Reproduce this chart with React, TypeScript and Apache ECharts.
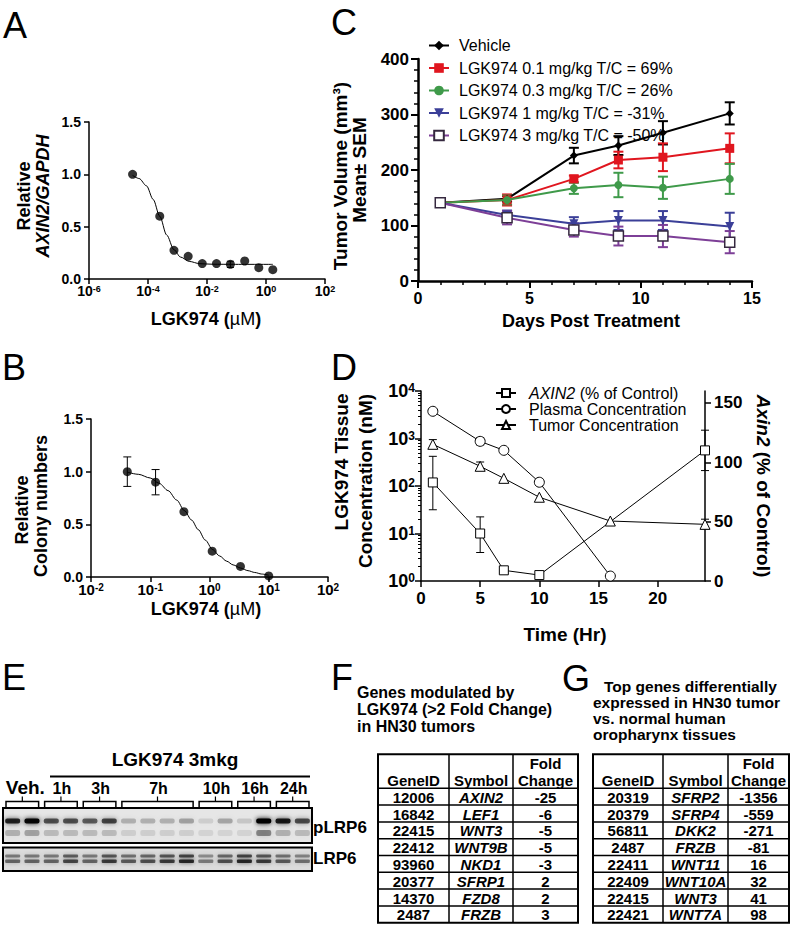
import React, { useEffect, useRef } from 'react';
import * as echarts from 'echarts';

const FONT = '"Liberation Sans", Arial, Helvetica, sans-serif';

// ---------- Panel A ----------
const A_DOSE = [3.0e-5, 2.5e-4, 7.6e-4, 2.3e-3, 6.9e-3, 2.1e-2, 6.2e-2, 0.19, 0.57, 1.7];
const A_AXIN2 = [1.0, 0.6, 0.274, 0.217, 0.147, 0.147, 0.14, 0.172, 0.108, 0.089];
const A_SEM = [0, 0, 0, 0, 0, 0, 0.03, 0, 0, 0];
// fitted curve
const A_FIT_DOSE = [3.0e-5, 5.0e-5, 8.9e-5, 1.5e-4, 2.5e-4, 4.3e-4, 7.6e-4, 1.26e-3, 2.5e-3, 5.75e-3, 1.58e-2, 7.8e-2, 1.7];
const A_FIT = [0.99, 0.96, 0.89, 0.76, 0.6, 0.42, 0.28, 0.21, 0.168, 0.146, 0.141, 0.14, 0.14];

// ---------- Panel B ----------
const B_DOSE = [0.041, 0.123, 0.37, 1.11, 3.33, 10];
const B_COLONY = [1.0, 0.9, 0.62, 0.245, 0.1, 0.01];
const B_SEM = [0.14, 0.12, 0, 0, 0, 0];
// fitted curve
const B_FIT_DOSE = [0.041, 0.063, 0.1, 0.141, 0.2, 0.28, 0.377, 0.5, 0.645, 0.85, 1.13, 1.48, 1.95, 2.5, 3.35, 4.47, 5.8, 7.6, 10];
const B_FIT = [0.995, 0.975, 0.94, 0.89, 0.82, 0.73, 0.63, 0.54, 0.45, 0.35, 0.26, 0.2, 0.15, 0.115, 0.085, 0.06, 0.043, 0.028, 0.017];

// ---------- Panel C ----------
const C_DAYS = [1, 4, 7, 9, 11, 14];
const C_NAMES = [
  'Vehicle',
  'LGK974 0.1 mg/kg T/C = 69%',
  'LGK974 0.3 mg/kg T/C = 26%',
  'LGK974 1 mg/kg T/C = -31%',
  'LGK974 3 mg/kg T/C = -50%',
];
const C_VEH = [141, 148, 226, 244, 267, 302];
const C_VEH_SEM = [0, 5, 14, 17, 21, 20];
const C_01 = [141, 146, 184, 218, 223, 239];
const C_01_SEM = [0, 10, 6, 15, 25, 27];
const C_03 = [141, 146, 167, 173, 168, 184];
const C_03_SEM = [0, 8, 10, 22, 20, 27];
const C_1 = [141, 119, 103, 109, 109, 98];
const C_1_SEM = [0, 8, 12, 17, 17, 25];
const C_3 = [141, 114, 92, 81, 81, 70];
const C_3_SEM = [0, 12, 12, 17, 20, 20];

// ---------- Panel D ----------
const D_NAMES = ['AXIN2 (% of Control)', 'Plasma Concentration', 'Tumor Concentration'];
const D_T_AXIN2 = [1, 5, 7, 10, 24];
const D_AXIN2 = [83, 40, 9, 5, 110];
const D_AXIN2_LO = [60, 24, 9, 5, 93];
const D_AXIN2_HI = [105, 54, 9, 5, 127];
const D_T_PLASMA = [1, 5, 7, 10, 16];
const D_PLASMA = [3740, 871, 564, 120, 1.27];
const D_PLASMA_LO = [3300, 730, 564, 103, 1.27];
const D_PLASMA_HI = [4300, 1050, 564, 138, 1.27];
const D_T_TUMOR = [1, 5, 7, 10, 16, 24];
const D_TUMOR = [755, 260, 145, 58, 18.3, 15.6];
const D_TUMOR_LO = [613, 214, 145, 58, 18.3, 12.5];
const D_TUMOR_HI = [948, 320, 145, 58, 18.3, 20];
const D_X_TICKS = [0, 5, 10, 15, 20];
const D_R_TICKS = [0, 50, 100, 150];

// ---------- Panel E (band darkness per lane, 0..1) ----------
const E_GROUP_LABELS = ['Veh.', '1h', '3h', '7h', '10h', '16h', '24h'];
const E_GROUP_SIZES = [2, 2, 2, 4, 2, 2, 2];
const E_PLRP6 = [0.8, 0.95, 0.6, 0.6, 0.55, 0.65, 0.22, 0.22, 0.22, 0.28, 0.1, 0.26, 0.13, 1.0, 0.85, 0.62];
const E_PLRP6_LOW = [0.22, 0.28, 0.18, 0.18, 0.18, 0.18, 0.1, 0.1, 0.1, 0.1, 0.08, 0.08, 0.08, 0.4, 0.22, 0.18];
const E_LRP6 = [0.55, 0.55, 0.55, 0.7, 0.55, 0.75, 0.6, 0.65, 0.75, 0.85, 0.45, 0.65, 0.85, 0.75, 0.6, 0.5];

// ---------- Tables ----------
const F_GENEID = ['12006', '16842', '22415', '22412', '93960', '20377', '14370', '2487'];
const F_SYMBOL = ['AXIN2', 'LEF1', 'WNT3', 'WNT9B', 'NKD1', 'SFRP1', 'FZD8', 'FRZB'];
const F_FOLD = ['-25', '-6', '-5', '-5', '-3', '2', '2', '3'];
const G_GENEID = ['20319', '20379', '56811', '2487', '22411', '22409', '22415', '22421'];
const G_SYMBOL = ['SFRP2', 'SFRP4', 'DKK2', 'FRZB', 'WNT11', 'WNT10A', 'WNT3', 'WNT7A'];
const G_FOLD = ['-1356', '-559', '-271', '-81', '16', '32', '41', '98'];

// ---------- styles ----------
const C_STYLE = [
  { line: '#000000', fill: '#000000', border: '#000000', symbol: 'diamond', size: 8, rotate: 0 },
  { line: '#e0161f', fill: '#e0161f', border: '#e0161f', symbol: 'rect', size: 9, rotate: 0 },
  { line: '#3f9a4a', fill: '#3f9a4a', border: '#3f9a4a', symbol: 'circle', size: 8, rotate: 0 },
  { line: '#3b3f98', fill: '#3b3f98', border: '#3b3f98', symbol: 'triangle', size: 9, rotate: 180 },
  { line: '#7d3f97', fill: '#ffffff', border: '#35283f', symbol: 'rect', size: 10, rotate: 0 },
];

const pow10 = (v: number) => `{b|10}{s|${Math.round(Math.log10(v))}}`;
const richPow = (fs: number, ss: number) => ({
  b: { fontSize: fs, fontWeight: 'bold', fontFamily: FONT, color: '#000', verticalAlign: 'bottom' },
  s: { fontSize: ss, fontWeight: 'bold', fontFamily: FONT, color: '#000', verticalAlign: 'top' },
});

const line = (lw: number) => ({ color: '#000', width: lw });

function errorBars(xIdx: number, yIdx: number, xs: number[], lo: number[], hi: number[], color: string, lw: number, cap: number, z: number) {
  const data = xs.map((x, i) => [x, lo[i], hi[i]]).filter((d) => d[1] !== d[2]);
  return {
    type: 'custom',
    xAxisIndex: xIdx,
    yAxisIndex: yIdx,
    z,
    silent: true,
    data,
    encode: { x: 0, y: [1, 2] },
    renderItem: (params: any, api: any) => {
      const x = api.value(0);
      const p1 = api.coord([x, api.value(1)]);
      const p2 = api.coord([x, api.value(2)]);
      const h = cap / 2;
      const st = { stroke: color, lineWidth: lw };
      return {
        type: 'group',
        children: [
          { type: 'line', shape: { x1: p1[0], y1: p1[1], x2: p2[0], y2: p2[1] }, style: st },
          { type: 'line', shape: { x1: p1[0] - h, y1: p1[1], x2: p1[0] + h, y2: p1[1] }, style: st },
          { type: 'line', shape: { x1: p2[0] - h, y1: p2[1], x2: p2[0] + h, y2: p2[1] }, style: st },
        ],
      };
    },
  };
}

function txt(text: string, x: number, y: number, o: any = {}) {
  return {
    type: 'text',
    x,
    y,
    rotation: o.rotation || 0,
    z: 10,
    silent: true,
    style: {
      text,
      fill: '#000',
      fontFamily: FONT,
      fontSize: o.size || 16,
      fontWeight: o.weight || 'bold',
      fontStyle: o.italic ? 'italic' : 'normal',
      align: o.align || 'center',
      verticalAlign: o.va || 'middle',
      rich: o.rich,
    },
  };
}

function hline(x1: number, x2: number, y: number, lw: number) {
  return { type: 'line', z: 10, silent: true, shape: { x1, y1: y, x2, y2: y }, style: { stroke: '#000', lineWidth: lw } };
}
function vline(x: number, y1: number, y2: number, lw: number) {
  return { type: 'line', z: 10, silent: true, shape: { x1: x, y1, x2: x, y2 }, style: { stroke: '#000', lineWidth: lw } };
}

function buildTable(cols: number[], yTop: number, yHead: number, rowH: number, ids: string[], syms: string[], folds: string[]) {
  const els: any[] = [];
  const n = ids.length;
  const yBot = yHead + rowH * n;
  els.push({ type: 'rect', z: 10, silent: true, shape: { x: cols[0], y: yTop, width: cols[3] - cols[0], height: yBot - yTop }, style: { fill: 'none', stroke: '#000', lineWidth: 2 } });
  els.push(vline(cols[1], yTop, yBot, 1.5));
  els.push(vline(cols[2], yTop, yBot, 1.5));
  for (let k = 0; k < n; k++) els.push(hline(cols[0], cols[3], yHead + k * rowH, 1.5));
  const c = [(cols[0] + cols[1]) / 2, (cols[1] + cols[2]) / 2, (cols[2] + cols[3]) / 2];
  els.push(txt('GeneID', c[0], yHead - 8, { size: 15 }));
  els.push(txt('Symbol', c[1], yHead - 8, { size: 15 }));
  els.push(txt('Fold', c[2], yHead - 25, { size: 15 }));
  els.push(txt('Change', c[2], yHead - 8, { size: 15 }));
  for (let i = 0; i < n; i++) {
    const y = yHead + rowH * (i + 0.5) + 0.5;
    els.push(txt(ids[i], c[0], y, { size: 15 }));
    els.push(txt(syms[i], c[1], y, { size: 15, italic: true }));
    els.push(txt(folds[i], c[2], y, { size: 15 }));
  }
  return els;
}

function buildBlot() {
  const els: any[] = [];
  const X0 = 3;
  const X1 = 312;
  const n = E_PLRP6.length;
  const lw = (X1 - X0) / n;
  els.push({ type: 'rect', z: 5, silent: true, shape: { x: X0, y: 808, width: X1 - X0, height: 35 }, style: { fill: '#e6e6e6' } });
  els.push({ type: 'rect', z: 5, silent: true, shape: { x: X0, y: 847.5, width: X1 - X0, height: 23.5 }, style: { fill: '#dcdcdc' } });
  for (let i = 0; i < n; i++) {
    const cx = X0 + lw * (i + 0.5);
    const a = E_PLRP6[i];
    els.push({ type: 'rect', z: 6, silent: true, shape: { x: cx - 7.5, y: 818.5, width: 15, height: 5, r: 2 }, style: { fill: `rgba(0,0,0,${a})`, shadowBlur: 5, shadowColor: `rgba(0,0,0,${a})` } });
    const b = E_PLRP6_LOW[i];
    els.push({ type: 'rect', z: 6, silent: true, shape: { x: cx - 7.5, y: 830, width: 15, height: 6, r: 2 }, style: { fill: `rgba(0,0,0,${b})`, shadowBlur: 6, shadowColor: `rgba(0,0,0,${b})` } });
    const c = E_LRP6[i];
    els.push({ type: 'rect', z: 6, silent: true, shape: { x: cx - 7.5, y: 854.5, width: 15, height: 3, r: 1 }, style: { fill: `rgba(0,0,0,${c * 0.75})`, shadowBlur: 4, shadowColor: `rgba(0,0,0,${c * 0.75})` } });
    els.push({ type: 'rect', z: 6, silent: true, shape: { x: cx - 7.5, y: 859.5, width: 15, height: 3.5, r: 1 }, style: { fill: `rgba(0,0,0,${c * 0.9})`, shadowBlur: 4, shadowColor: `rgba(0,0,0,${c * 0.9})` } });
  }
  els.push({ type: 'rect', z: 7, silent: true, shape: { x: X0, y: 808, width: X1 - X0, height: 35 }, style: { fill: 'none', stroke: '#000', lineWidth: 2 } });
  els.push({ type: 'rect', z: 7, silent: true, shape: { x: X0, y: 847.5, width: X1 - X0, height: 23.5 }, style: { fill: 'none', stroke: '#000', lineWidth: 2 } });
  let start = 0;
  E_GROUP_SIZES.forEach((sz, g) => {
    const xa = X0 + lw * start + 3;
    const xb = X0 + lw * (start + sz) - 3;
    const xm = (xa + xb) / 2;
    els.push({ type: 'polyline', z: 10, silent: true, shape: { points: [[xa, 807], [xa, 801.5], [xb, 801.5], [xb, 807]] }, style: { stroke: '#000', lineWidth: 1.5, fill: 'none' } });
    els.push(vline(xm, 801.5, 796.5, 1.2));
    if (g === 0) els.push(txt(E_GROUP_LABELS[g], xm + 3, 787, { size: 19 }));
    else els.push(txt(E_GROUP_LABELS[g], xm + 1, 788, { size: 16 }));
    start += sz;
  });
  els.push(txt('LGK974 3mkg', 175, 759, { size: 19 }));
  els.push(hline(50, 310, 776.5, 2));
  els.push(txt('pLRP6', 313, 827, { size: 17, align: 'left' }));
  els.push(txt('LRP6', 313, 858.5, { size: 17, align: 'left' }));
  return els;
}

function buildOption() {
  const C_MEANS = [C_VEH, C_01, C_03, C_1, C_3];
  const C_SEMS = [C_VEH_SEM, C_01_SEM, C_03_SEM, C_1_SEM, C_3_SEM];

  const minorLog: number[] = [];
  for (let d = 0; d < 4; d++) for (let k = 2; k <= 9; k++) minorLog.push(d + Math.log10(k));

  const series: any[] = [];
  // A
  series.push({ type: 'line', xAxisIndex: 0, yAxisIndex: 0, data: A_FIT_DOSE.map((d, i) => [d, A_FIT[i]]), symbol: 'none', smooth: 0.3, smoothMonotone: 'x', lineStyle: { color: '#000', width: 1 }, z: 2 });
  series.push(errorBars(0, 0, A_DOSE, A_AXIN2.map((v, i) => v - A_SEM[i]), A_AXIN2.map((v, i) => v + A_SEM[i]), '#000', 1, 7, 2));
  series.push({ type: 'scatter', xAxisIndex: 0, yAxisIndex: 0, data: A_DOSE.map((d, i) => [d, A_AXIN2[i]]), symbol: 'circle', symbolSize: 9, itemStyle: { color: '#000' }, z: 3 });
  // B
  series.push({ type: 'line', xAxisIndex: 1, yAxisIndex: 1, data: B_FIT_DOSE.map((d, i) => [d, B_FIT[i]]), symbol: 'none', smooth: 0.3, smoothMonotone: 'x', lineStyle: { color: '#000', width: 1 }, z: 2 });
  series.push(errorBars(1, 1, B_DOSE, B_COLONY.map((v, i) => v - B_SEM[i]), B_COLONY.map((v, i) => v + B_SEM[i]), '#000', 1, 8, 2));
  series.push({ type: 'scatter', xAxisIndex: 1, yAxisIndex: 1, data: B_DOSE.map((d, i) => [d, B_COLONY[i]]), symbol: 'circle', symbolSize: 9, itemStyle: { color: '#000' }, z: 3 });
  // C
  C_MEANS.forEach((m, i) => {
    const s = C_STYLE[i];
    series.push(errorBars(2, 2, C_DAYS, m.map((v, j) => v - C_SEMS[i][j]), m.map((v, j) => v + C_SEMS[i][j]), s.line, 2, 10, 2));
  });
  C_MEANS.forEach((m, i) => {
    const s = C_STYLE[i];
    series.push({
      type: 'line', name: C_NAMES[i], xAxisIndex: 2, yAxisIndex: 2,
      data: C_DAYS.map((d, j) => [d, m[j]]),
      symbol: s.symbol, symbolSize: s.size, symbolRotate: s.rotate, showAllSymbol: true,
      itemStyle: { color: s.fill, borderColor: s.border, borderWidth: i === 4 ? 1.5 : 0 },
      lineStyle: { color: s.line, width: 2 }, z: 3 + i,
    });
  });
  // D
  series.push(errorBars(3, 4, D_T_AXIN2, D_AXIN2_LO, D_AXIN2_HI, '#000', 1, 8, 2));
  series.push(errorBars(3, 3, D_T_PLASMA, D_PLASMA_LO, D_PLASMA_HI, '#000', 1, 8, 2));
  series.push(errorBars(3, 3, D_T_TUMOR, D_TUMOR_LO, D_TUMOR_HI, '#000', 1, 8, 2));
  const dOpen = { color: '#fff', borderColor: '#000', borderWidth: 1 };
  series.push({ type: 'line', name: D_NAMES[0], xAxisIndex: 3, yAxisIndex: 4, data: D_T_AXIN2.map((t, i) => [t, D_AXIN2[i]]), symbol: 'rect', symbolSize: 9, itemStyle: dOpen, lineStyle: { color: '#000', width: 1 }, z: 3 });
  series.push({ type: 'line', name: D_NAMES[1], xAxisIndex: 3, yAxisIndex: 3, data: D_T_PLASMA.map((t, i) => [t, D_PLASMA[i]]), symbol: 'circle', symbolSize: 10, itemStyle: dOpen, lineStyle: { color: '#000', width: 1 }, z: 3 });
  series.push({ type: 'line', name: D_NAMES[2], xAxisIndex: 3, yAxisIndex: 3, data: D_T_TUMOR.map((t, i) => [t, D_TUMOR[i]]), symbol: 'triangle', symbolSize: 10, itemStyle: dOpen, lineStyle: { color: '#000', width: 1 }, z: 3 });

  const lab = (fs: number, margin: number, extra: any = {}) => ({ color: '#000', fontFamily: FONT, fontWeight: 'bold', fontSize: fs, margin, ...extra });

  const xAxis: any[] = [
    {
      type: 'log', logBase: 100, gridIndex: 0, min: 1e-6, max: 1e2, position: 'bottom',
      axisLine: { onZero: false, lineStyle: line(1.5) },
      axisTick: { length: 5, lineStyle: line(1.5) },
      axisLabel: lab(14, 5, { formatter: pow10, rich: richPow(14, 9) }),
      splitLine: { show: false },
    },
    {
      type: 'log', logBase: 10, gridIndex: 1, min: 1e-2, max: 1e2, position: 'bottom',
      axisLine: { onZero: false, lineStyle: line(1.5) },
      axisTick: { length: 5, lineStyle: line(1.5) },
      axisLabel: lab(15, 5, { formatter: pow10, rich: richPow(15, 10) }),
      splitLine: { show: false },
    },
    {
      type: 'value', gridIndex: 2, min: 0, max: 15, interval: 5, position: 'bottom',
      axisLine: { onZero: false, lineStyle: line(2.5) },
      axisTick: { length: 7, lineStyle: line(2) },
      minorTick: { show: true, splitNumber: 5, length: 4, lineStyle: line(1.5) },
      axisLabel: lab(16, 9),
      splitLine: { show: false },
    },
    {
      type: 'value', gridIndex: 3, min: 0, max: 24, interval: 5, position: 'bottom',
      axisLine: { onZero: false, lineStyle: line(1.5) },
      axisTick: { length: 6, lineStyle: line(1.5), customValues: D_X_TICKS },
      axisLabel: lab(17, 9, { customValues: D_X_TICKS }),
      splitLine: { show: false },
    },
  ];

  const yAxis: any[] = [
    {
      type: 'value', gridIndex: 0, min: 0, max: 1.5, interval: 0.5, position: 'left',
      axisLine: { show: true, onZero: false, lineStyle: line(1.5) },
      axisTick: { show: true, length: 5, lineStyle: line(1.5) },
      axisLabel: lab(14, 8, { formatter: (v: number) => v.toFixed(1) }),
      splitLine: { show: false },
    },
    {
      type: 'value', gridIndex: 1, min: 0, max: 1.5, interval: 0.5, position: 'left',
      axisLine: { show: true, onZero: false, lineStyle: line(1.5) },
      axisTick: { show: true, length: 5, lineStyle: line(1.5) },
      axisLabel: lab(14, 8, { formatter: (v: number) => v.toFixed(1) }),
      splitLine: { show: false },
    },
    {
      type: 'value', gridIndex: 2, min: 0, max: 400, interval: 100, position: 'left',
      axisLine: { show: true, onZero: false, lineStyle: line(2.5) },
      axisTick: { show: true, length: 7, lineStyle: line(2) },
      minorTick: { show: true, splitNumber: 5, length: 4, lineStyle: line(1.5) },
      axisLabel: lab(17, 9),
      splitLine: { show: false },
    },
    {
      type: 'log', logBase: 10, gridIndex: 3, min: 1, max: 1e4, position: 'left',
      axisLine: { show: true, onZero: false, lineStyle: line(1.5) },
      axisTick: { show: true, length: 6, lineStyle: line(1.5) },
      axisLabel: lab(18, 6, { formatter: pow10, rich: richPow(18, 12) }),
      splitLine: { show: false },
    },
    {
      type: 'value', gridIndex: 3, min: 0, max: 160, interval: 50, position: 'right',
      axisLine: { show: true, onZero: false, lineStyle: line(1.5) },
      axisTick: { show: true, length: 6, lineStyle: line(1.5), customValues: D_R_TICKS },
      axisLabel: lab(17, 9, { customValues: D_R_TICKS }),
      splitLine: { show: false },
    },
    {
      type: 'value', gridIndex: 3, min: 0, max: 4, position: 'left',
      axisLine: { show: false },
      axisTick: { show: true, length: 3, lineStyle: line(1), customValues: minorLog },
      axisLabel: { show: false },
      splitLine: { show: false },
    },
  ];

  const graphic: any[] = [];
  const L = (t: string, x: number, y: number) => txt(t, x, y, { size: 36, weight: 'normal', align: 'left' });
  graphic.push(L('A', 3, 25), L('B', 2, 367), L('C', 331, 22), L('D', 331, 367), L('E', 2, 677), L('F', 331, 677), L('G', 562, 678));
  // A titles
  graphic.push(txt('Relative', 24, 196, { size: 18, rotation: Math.PI / 2 }));
  graphic.push(txt('AXIN2/GAPDH', 43, 196, { size: 18, rotation: Math.PI / 2, italic: true }));
  const umRich = {
    b: { fontSize: 18, fontWeight: 'bold', fontFamily: FONT, color: '#000' },
    r: { fontSize: 18, fontWeight: 'normal', fontFamily: FONT, color: '#000' },
  };
  graphic.push(txt('{b|LGK974 (}{r|µM}{b|)}', 206, 319, { size: 18, rich: umRich }));
  // B titles
  graphic.push(txt('Relative', 22, 510, { size: 18, rotation: Math.PI / 2 }));
  graphic.push(txt('Colony numbers', 41, 506, { size: 18, rotation: Math.PI / 2 }));
  graphic.push(txt('{b|LGK974 (}{r|µM}{b|)}', 206, 609, { size: 18, rich: umRich }));
  // C titles
  graphic.push(txt('Tumor Volume (mm³)', 340, 176, { size: 19, rotation: Math.PI / 2 }));
  graphic.push(txt('Mean± SEM', 359, 170, { size: 19, rotation: Math.PI / 2 }));
  graphic.push(txt('Days Post Treatment', 591, 321, { size: 18 }));
  // D titles
  graphic.push(txt('LGK974 Tissue', 341, 462, { size: 19, rotation: Math.PI / 2 }));
  graphic.push(txt('Concentration (nM)', 365, 481, { size: 19, rotation: Math.PI / 2 }));
  graphic.push(txt('{i|Axin2}{b| (% of Control)}', 763, 486, {
    size: 19, rotation: -Math.PI / 2,
    rich: {
      i: { fontSize: 19, fontWeight: 'bold', fontStyle: 'italic', fontFamily: FONT, color: '#000' },
      b: { fontSize: 19, fontWeight: 'bold', fontFamily: FONT, color: '#000' },
    },
  }));
  graphic.push(txt('Time (Hr)', 565, 634, { size: 19 }));
  // E
  graphic.push(...buildBlot());
  // F
  graphic.push(txt('Genes modulated by', 357, 692, { size: 16, align: 'left' }));
  graphic.push(txt('LGK974 (>2 Fold Change)', 357, 709, { size: 16, align: 'left' }));
  graphic.push(txt('in HN30 tumors', 357, 726, { size: 16, align: 'left' }));
  graphic.push(...buildTable([378, 449, 513, 578], 754.3, 788.3, 16.8, F_GENEID, F_SYMBOL, F_FOLD));
  // G
  graphic.push(txt('Top genes differentially', 604, 686, { size: 15.5, align: 'left' }));
  graphic.push(txt('expressed in HN30 tumor', 593, 702, { size: 15.5, align: 'left' }));
  graphic.push(txt('vs. normal human', 593, 718, { size: 15.5, align: 'left' }));
  graphic.push(txt('oropharynx tissues', 593, 734, { size: 15.5, align: 'left' }));
  graphic.push(...buildTable([593, 663, 728, 789], 754.3, 788.3, 16.8, G_GENEID, G_SYMBOL, G_FOLD));

  return {
    animation: false,
    backgroundColor: '#ffffff',
    grid: [
      { left: 89, top: 122, width: 236, height: 157 },
      { left: 91, top: 419, width: 237, height: 158 },
      { left: 418, top: 59, width: 334, height: 222 },
      { left: 421, top: 391, width: 284, height: 190 },
    ],
    xAxis,
    yAxis,
    legend: [
      {
        data: C_NAMES, orient: 'vertical', left: 428, top: 37.5, padding: 0,
        itemWidth: 20, itemHeight: 12, itemGap: 6.5, selectedMode: false,
        textStyle: { fontFamily: FONT, fontSize: 16, color: '#000', lineHeight: 12, padding: [0, 0, 0, 5] },
      },
      {
        data: D_NAMES, orient: 'vertical', left: 495, top: 385, padding: 0,
        itemWidth: 20, itemHeight: 10, itemGap: 0, selectedMode: false,
        formatter: (name: string) => (name.indexOf('AXIN2') === 0 ? '{i|AXIN2}{n| (% of Control)}' : `{n|${name}}`),
        textStyle: {
          fontFamily: FONT, fontSize: 16, color: '#000', lineHeight: 15.5, padding: [0, 0, 0, 8],
          rich: {
            i: { fontFamily: FONT, fontSize: 16, fontStyle: 'italic', color: '#000', lineHeight: 15.5 },
            n: { fontFamily: FONT, fontSize: 16, color: '#000', lineHeight: 15.5 },
          },
        },
      },
    ],
    series,
    graphic,
  };
}

export default function App() {
  const ref = useRef<HTMLDivElement>(null);
  useEffect(() => {
    const chart = echarts.init(ref.current as HTMLDivElement, null, { renderer: 'svg', width: 799, height: 935 });
    chart.setOption(buildOption() as any);
    return () => chart.dispose();
  }, []);
  return <div ref={ref} style={{ position: 'absolute', left: 0, top: 0, width: 799, height: 935, background: '#fff' }} />;
}
